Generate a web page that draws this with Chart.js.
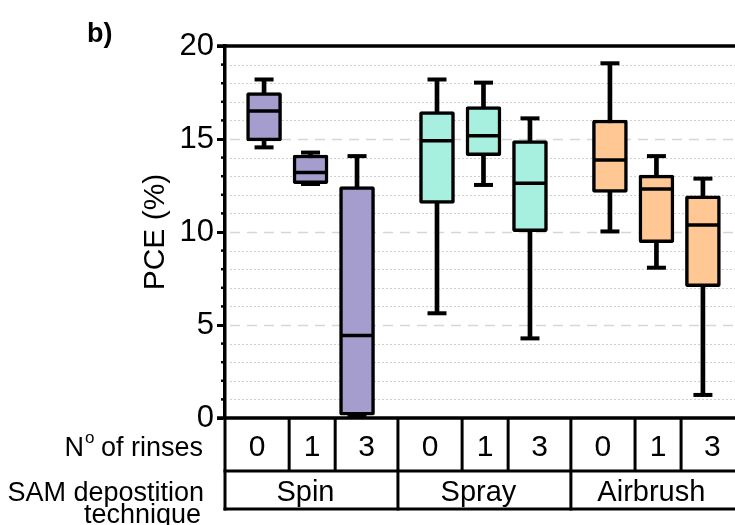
<!DOCTYPE html>
<html>
<head>
<meta charset="utf-8">
<script src="https://cdn.jsdelivr.net/npm/chart.js@4.4.1/dist/chart.umd.min.js"></script>
<style>
  html, body { margin: 0; padding: 0; background: #fff; }
  #wrap { width: 735px; height: 525px; position: relative; }
</style>
</head>
<body>
<div id="wrap"><canvas id="pce"></canvas></div>
<script>
// ------------------------------------------
// DATA
// ------------------------------------------
const techniques = ['Spin', 'Spray', 'Airbrush'];
const rinses = ['0', '1', '3'];

// order: Spin 0,1,3 | Spray 0,1,3 | Airbrush 0,1,3
const pceMin    = [14.55, 12.58, 0.10,  5.63, 12.53,  4.28, 10.03,  8.08,  1.24];
const pceQ1     = [14.90, 12.60, 0.15, 11.54, 14.10, 10.02, 12.13,  9.43,  7.06];
const pceMedian = [16.50, 13.20, 4.43, 14.90, 15.18, 12.62, 13.87, 12.31, 10.38];
const pceQ3     = [17.50, 14.14, 12.44, 16.47, 16.74, 14.91, 16.02, 13.06, 11.95];
const pceMax    = [18.20, 14.27, 14.08, 18.20, 18.03, 16.11, 19.07, 14.08, 12.87];

const yTicks = [0, 5, 10, 15, 20];

// ------------------------------------------
// LAYOUT
// ------------------------------------------
const groupColors = ['#A59DCD', '#A7EFDF', '#FFC794'];
const GROUP_STEP = 3.72;                 // x units between technique groups
const CELL_EDGES = [-0.84, 0.54, 1.53];  // left edges of the rinse cells inside a group
const FONT = "'Liberation Sans', Arial, sans-serif";

const idx = pceMedian.map((_, i) => i);
const xPos = i => Math.floor(i / rinses.length) * GROUP_STEP + (i % rinses.length);
const boxColor = i => groupColors[Math.floor(i / rinses.length)];

// ------------------------------------------
// PLUGIN: grid, frame, table under the plot
// ------------------------------------------
const tablePlugin = {
    id: 'tablePlugin',
    beforeDatasetsDraw(chart) {
        const { ctx, chartArea: { left, right }, scales: { y } } = chart;
        ctx.save();
        for (let v = 1; v < 20; v++) {
            const py = Math.round(y.getPixelForValue(v)) + 0.5;
            ctx.beginPath();
            if (v % 5 === 0) {
                ctx.setLineDash([10, 7]);
                ctx.strokeStyle = '#d6d6d6';
                ctx.lineWidth = 1.5;
            } else {
                ctx.setLineDash([2, 2]);
                ctx.strokeStyle = '#cfcfcf';
                ctx.lineWidth = 1;
            }
            ctx.moveTo(left + 5, py);
            ctx.lineTo(right, py);
            ctx.stroke();
        }
        ctx.restore();
    },
    afterDraw(chart) {
        const { ctx, chartArea: { left, right, top, bottom }, scales: { x, y } } = chart;
        ctx.save();
        ctx.strokeStyle = '#000';
        ctx.fillStyle = '#000';

        // minor ticks on the y axis
        ctx.lineWidth = 2.5;
        for (let v = 1; v < 20; v++) {
            if (v % 5 === 0) continue;
            const py = y.getPixelForValue(v);
            ctx.beginPath();
            ctx.moveTo(left - 4, py);
            ctx.lineTo(left, py);
            ctx.stroke();
        }

        // top frame line and zero line
        ctx.lineWidth = 3.5;
        ctx.beginPath();
        ctx.moveTo(left - 8, top);
        ctx.lineTo(right, top);
        ctx.moveTo(left - 8, bottom);
        ctx.lineTo(right, bottom);
        ctx.stroke();

        // table rows
        ctx.lineWidth = 3;
        const row1 = bottom + 53;
        const row2 = bottom + 91;
        ctx.beginPath();
        ctx.moveTo(left - 1.5, row1);
        ctx.lineTo(right, row1);
        ctx.moveTo(left - 1.5, row2);
        ctx.lineTo(right, row2);
        ctx.stroke();

        ctx.textAlign = 'center';
        ctx.textBaseline = 'alphabetic';
        techniques.forEach((name, g) => {
            const base = g * GROUP_STEP;
            const gl = x.getPixelForValue(base + CELL_EDGES[0]);
            const gr = x.getPixelForValue(base + GROUP_STEP + CELL_EDGES[0]);
            // group border
            ctx.beginPath();
            ctx.moveTo(gl, bottom);
            ctx.lineTo(gl, row2 + 1.5);
            ctx.stroke();
            // rinse cells
            rinses.forEach((r, k) => {
                const cl = x.getPixelForValue(base + CELL_EDGES[k]);
                const cr = k < rinses.length - 1 ? x.getPixelForValue(base + CELL_EDGES[k + 1]) : gr;
                if (k > 0) {
                    ctx.beginPath();
                    ctx.moveTo(cl, bottom);
                    ctx.lineTo(cl, row1);
                    ctx.stroke();
                }
                ctx.font = '30px ' + FONT;
                ctx.fillText(r, (cl + cr) / 2, bottom + 38);
            });
            ctx.font = '29px ' + FONT;
            ctx.fillText(name, (gl + gr) / 2 - 6, bottom + 83);
        });

        // row labels
        ctx.textAlign = 'left';
        ctx.font = '27px ' + FONT;
        const rest = ' of rinses';
        const wRest = ctx.measureText(rest).width;
        const wN = ctx.measureText('N').width;
        ctx.font = '17px ' + FONT;
        const wo = ctx.measureText('o').width;
        let sx = 203 - wRest - wo - wN;
        ctx.font = '27px ' + FONT;
        ctx.fillText('N', sx, bottom + 38);
        ctx.font = '17px ' + FONT;
        ctx.fillText('o', sx + wN + 1, bottom + 25);
        ctx.font = '27px ' + FONT;
        ctx.fillText(rest, sx + wN + wo, bottom + 38);

        ctx.textAlign = 'right';
        ctx.fillText('SAM depostition', 204, bottom + 83);
        ctx.fillText('technique', 201, bottom + 105);

        // panel label
        ctx.textAlign = 'left';
        ctx.font = 'bold 27px ' + FONT;
        ctx.fillText('b)', 87, 42);
        ctx.restore();
    }
};

// ------------------------------------------
// CHART
// ------------------------------------------
new Chart(document.getElementById('pce'), {
    type: 'bar',
    data: {
        datasets: [
            {
                // whiskers
                type: 'bar',
                data: idx.map(i => ({ x: xPos(i), y: [pceMin[i], pceMax[i]] })),
                backgroundColor: '#000',
                barThickness: 4,
                grouped: false,
                order: 3
            },
            {
                // boxes Q1..Q3
                type: 'bar',
                data: idx.map(i => ({ x: xPos(i), y: [pceQ1[i], pceQ3[i]] })),
                backgroundColor: idx.map(boxColor),
                borderColor: '#000',
                borderWidth: 3.5,
                borderRadius: 2,
                borderSkipped: false,
                barThickness: 35,
                grouped: false,
                order: 2
            },
            {
                // medians
                type: 'scatter',
                data: idx.map(i => ({ x: xPos(i), y: pceMedian[i] })),
                pointStyle: 'line',
                radius: 16,
                borderWidth: 3.5,
                borderColor: '#000',
                order: 1
            },
            {
                // whisker caps
                type: 'scatter',
                data: idx.map(i => ({ x: xPos(i), y: pceMin[i] }))
                    .concat(idx.map(i => ({ x: xPos(i), y: pceMax[i] }))),
                pointStyle: 'line',
                radius: 9.5,
                borderWidth: 4,
                borderColor: '#000',
                order: 1
            }
        ]
    },
    options: {
        responsive: true,
        maintainAspectRatio: false,
        animation: false,
        layout: { autoPadding: false, padding: { left: 138, top: 46, bottom: 107, right: 0 } },
        plugins: {
            legend: { display: false },
            tooltip: { enabled: false }
        },
        scales: {
            x: {
                type: 'linear',
                display: false,
                offset: false,
                min: -0.84,
                max: 10.13
            },
            y: {
                min: 0,
                max: 20,
                afterFit(scale) { scale.width = 87; },
                afterBuildTicks(scale) { scale.ticks = yTicks.map(v => ({ value: v })); },
                ticks: {
                    color: '#000',
                    padding: 3,
                    font: { family: FONT, size: 31 }
                },
                grid: {
                    drawOnChartArea: false,
                    drawTicks: true,
                    tickLength: 8,
                    tickWidth: 3,
                    tickColor: '#000'
                },
                border: { color: '#000', width: 3.5 },
                title: {
                    display: true,
                    text: 'PCE (%)',
                    color: '#000',
                    padding: 0,
                    font: { family: FONT, size: 30 }
                }
            }
        }
    },
    plugins: [tablePlugin]
});
</script>
</body>
</html>
